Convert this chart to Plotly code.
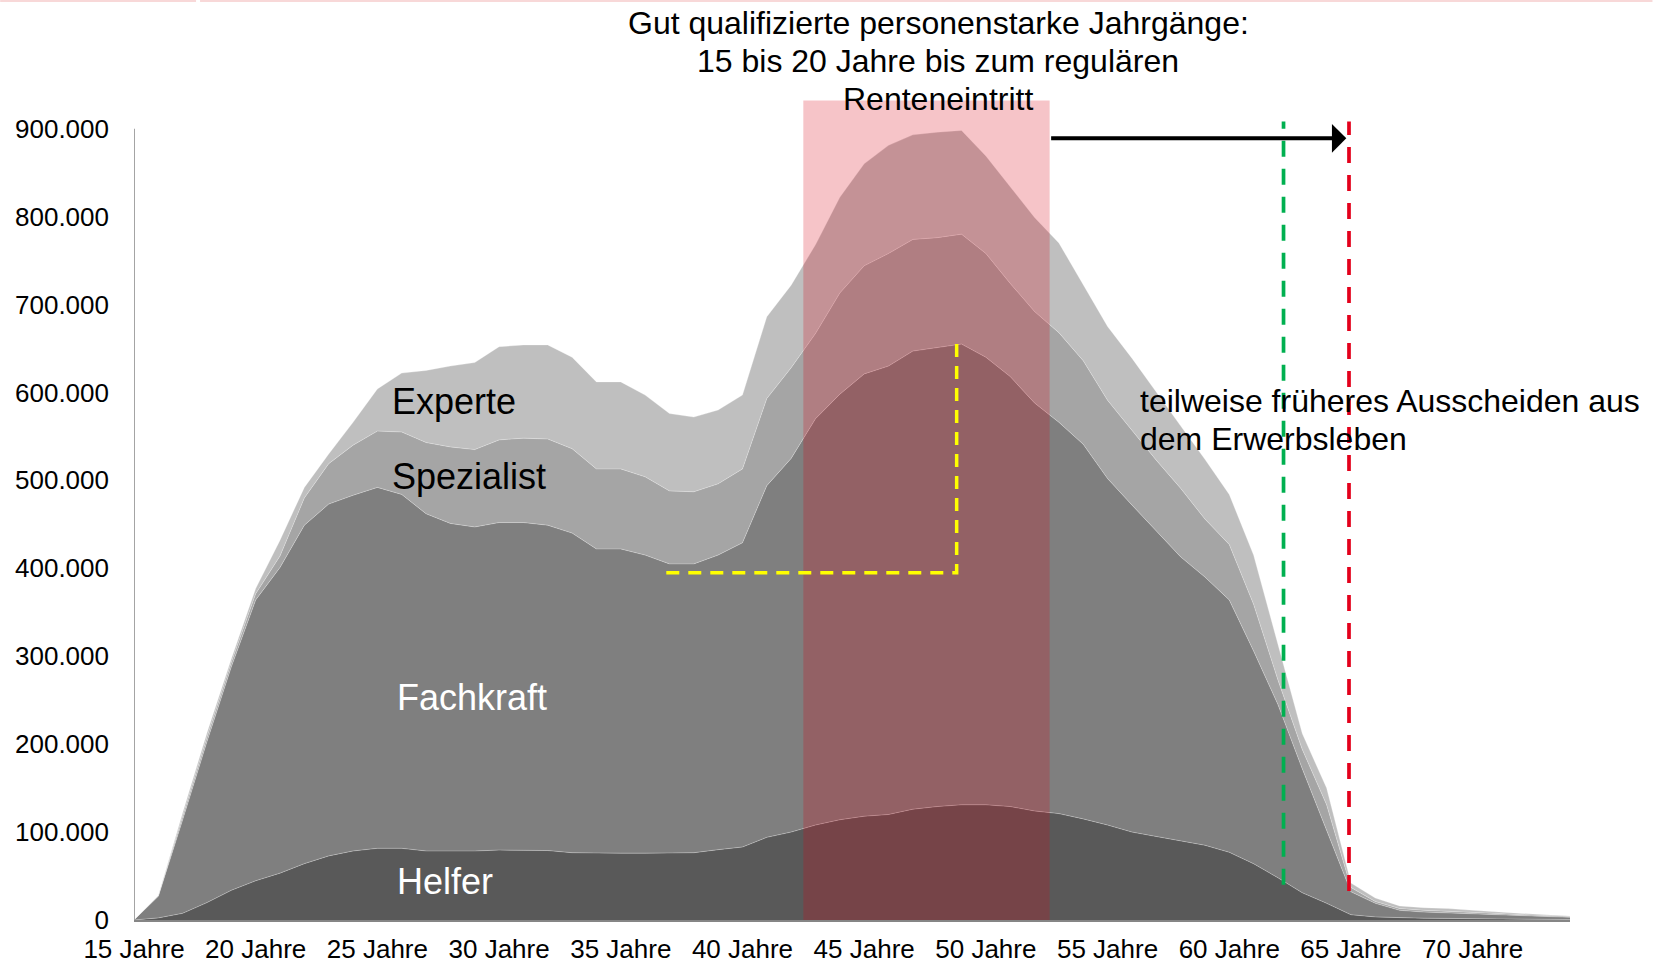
import plotly.graph_objects as go

# ---------------- data ----------------
ages = list(range(15, 75))

helfer = [0, 2400, 7600, 19800, 33800, 44600, 53300, 64100, 72900, 78500,
          81500, 81500, 78500, 78500, 78500, 79500, 79500, 79000, 76500, 76000,
          76000, 76000, 76000, 76500, 80000, 83000, 94000, 100000, 108000, 114000,
          118000, 120000, 126000, 129000, 131000, 131000, 129000, 124000, 121000, 115000,
          108000, 100000, 95000, 90000, 85000, 77000, 64000, 48000, 31000, 19000,
          6000, 3500, 2500, 2000, 1800, 1500, 1200, 1000, 800, 500]

fachkraft = [0, 24600, 106400, 183200, 254200, 319400, 347700, 384900, 400100, 404500,
             410500, 402500, 383500, 372500, 368500, 372500, 372500, 370000, 363500, 346000,
             346000, 339000, 329000, 328500, 335000, 346000, 400000, 425000, 462000, 484000,
             503000, 510000, 521000, 522000, 524000, 509000, 489000, 464000, 445000, 426000,
             394000, 372000, 348000, 323000, 305000, 287000, 242000, 197000, 141000, 84000,
             26000, 15500, 8500, 7000, 6200, 5500, 4800, 4000, 3200, 2500]

spezialist = [0, 500, 4000, 5000, 5000, 7000, 13000, 31000, 46000, 57000,
              64000, 71000, 81000, 87000, 88000, 94000, 96000, 98000, 96000, 91000,
              91000, 89000, 83000, 82000, 81000, 84000, 99000, 103000, 97000, 115000,
              123000, 128000, 127000, 125000, 125000, 118000, 106000, 104000, 102000, 95000,
              89000, 85000, 80000, 78000, 66000, 63000, 53000, 28000, 22000, 28000,
              5000, 2000, 2000, 2000, 2000, 2000, 1500, 1000, 1000, 1000]

experte = [0, 500, 4000, 5000, 4000, 6000, 18000, 12000, 11000, 26000,
           48000, 67000, 82000, 92000, 99000, 106000, 106000, 107000, 104000, 99000,
           99000, 93000, 88000, 85000, 84000, 84000, 93000, 94000, 101000, 109000,
           116000, 123000, 119000, 120000, 118000, 111000, 110000, 107000, 102000, 86000,
           84000, 82000, 77000, 71000, 68000, 57000, 56000, 42000, 18000, 19000,
           5000, 4000, 3000, 3000, 3000, 2000, 1500, 1500, 1000, 500]

series_names = ["Helfer", "Fachkraft", "Spezialist", "Experte"]
series_values = [helfer, fachkraft, spezialist, experte]
series_colors = ["#595959", "#7F7F7F", "#A5A5A5", "#BFBFBF"]

x_tick_ages = [15, 20, 25, 30, 35, 40, 45, 50, 55, 60, 65, 70]
x_tick_labels = [f"{a} Jahre" for a in x_tick_ages]
y_ticks = list(range(0, 900001, 100000))

# highlighted age band, markers (age / value)
band_ages = (42.5, 52.62)
band_top = 932000
yellow_ages = (36.87, 48.8)
yellow_values = (395000, 657000)
early_exit_age = 62.23
regular_exit_age = 64.92
arrow_tip_age = 64.81
arrow_value = 889000

# ---------------- geometry ----------------
W, H = 1653, 964
L = 133.9
R = W - 1570.5
B = H - 920.3
PX_PER_100K = 87.96
y_top = 939400
T = H - B - PX_PER_100K * y_top / 100000
plot_w = W - L - R
plot_h = H - T - B


def px_x(px):
    """reference-pixel x -> paper fraction"""
    return (px - L) / plot_w


def px_y(py):
    """reference-pixel y -> paper fraction"""
    return (H - B - py) / plot_h


fig = go.Figure()
for name, vals, col in zip(series_names, series_values, series_colors):
    fig.add_trace(go.Scatter(
        x=ages, y=vals, name=name, mode="lines", stackgroup="one",
        line=dict(width=0.8, color="rgba(255,255,255,0.35)"),
        fillcolor=col, hoverinfo="x+y+name"))

FONT = "Liberation Sans, Arial, sans-serif"

shapes = []
# y-axis line
shapes.append(dict(type="line", xref="x", yref="y", x0=15, x1=15, y0=0, y1=900000,
                   line=dict(color="#868686", width=1.5), layer="above"))
# pink band
shapes.append(dict(type="rect", xref="x", yref="y", x0=band_ages[0], x1=band_ages[1],
                   y0=0, y1=band_top, fillcolor="rgba(216,0,16,0.23)",
                   line=dict(width=0), layer="above"))
# yellow dashed bracket
shapes.append(dict(type="path", xref="x", yref="y",
                   path=f"M {yellow_ages[0]},{yellow_values[0]} L {yellow_ages[1]},{yellow_values[0]} "
                        f"L {yellow_ages[1]},{yellow_values[1]}",
                   line=dict(color="#FFFF00", width=3.5, dash="13px,9px"), layer="above"))
# green / red dashed verticals
shapes.append(dict(type="line", xref="x", yref="y", x0=early_exit_age, x1=early_exit_age,
                   y0=40000, y1=908000, line=dict(color="#00B050", width=3.7, dash="16px,12px"),
                   layer="above"))
shapes.append(dict(type="line", xref="x", yref="y", x0=regular_exit_age, x1=regular_exit_age,
                   y0=33000, y1=908000, line=dict(color="#E3001B", width=3.7, dash="16px,12px"),
                   layer="above"))
# faint slide border line at the very top
shapes.append(dict(type="line", xref="paper", yref="paper", x0=px_x(0), x1=px_x(196),
                   y0=px_y(1), y1=px_y(1), line=dict(color="#F8D8D8", width=2)))
shapes.append(dict(type="line", xref="paper", yref="paper", x0=px_x(200), x1=px_x(1653),
                   y0=px_y(1), y1=px_y(1), line=dict(color="#F8D8D8", width=2)))

annotations = []
# arrow
annotations.append(dict(x=arrow_tip_age, y=arrow_value, ax=band_ages[1], ay=arrow_value,
                        xref="x", yref="y", axref="x", ayref="y", text="", showarrow=True,
                        arrowhead=1, arrowsize=1.2, arrowwidth=4, arrowcolor="black", standoff=0))

title_lines = ["Gut qualifizierte personenstarke Jahrgänge:",
               "15 bis 20 Jahre bis zum regulären",
               "Renteneintritt"]
for line, py in zip(title_lines, [23.2, 61.1, 99.1]):
    annotations.append(dict(x=px_x(938.5), y=px_y(py), xref="paper", yref="paper",
                            text=line, showarrow=False, xanchor="center", yanchor="middle",
                            font=dict(family=FONT, size=32, color="black")))

exit_lines = ["teilweise früheres Ausscheiden aus", "dem Erwerbsleben"]
for line, py in zip(exit_lines, [401.6, 439.6]):
    annotations.append(dict(x=px_x(1138.6), y=px_y(py), xref="paper", yref="paper",
                            text=line, showarrow=False, xanchor="left", yanchor="middle",
                            font=dict(family=FONT, size=32, color="black")))

series_labels = [("Experte", 390, 401.6, "black"), ("Spezialist", 390, 476.5, "black"),
                 ("Fachkraft", 395.3, 698, "white"), ("Helfer", 395.3, 881.3, "white")]
for txt, px, py, col in series_labels:
    annotations.append(dict(x=px_x(px), y=px_y(py), xref="paper", yref="paper",
                            text=txt, showarrow=False, xanchor="left", yanchor="middle",
                            font=dict(family=FONT, size=36, color=col)))

fig.update_layout(
    width=W, height=H, autosize=False,
    margin=dict(l=L, r=R, t=T, b=B, pad=0, autoexpand=False),
    paper_bgcolor="white", plot_bgcolor="white",
    showlegend=False, separators=",.",
    font=dict(family=FONT, color="black"),
    shapes=shapes, annotations=annotations,
    xaxis=dict(range=[15, 74], tickmode="array", tickvals=x_tick_ages, ticktext=x_tick_labels,
               showgrid=False, zeroline=False, showline=True, linecolor="#868686", linewidth=1.5,
               automargin=False,
               ticks="", ticklabelstandoff=5, tickfont=dict(family=FONT, size=26, color="black")),
    yaxis=dict(range=[0, y_top], tickmode="array", tickvals=y_ticks, tickformat=",d",
               showgrid=False, zeroline=False, showline=False, automargin=False,
               ticks="", ticklabelstandoff=24, tickfont=dict(family=FONT, size=26, color="black")),
)

# remove the browser's default 8px body margin so the figure fills the window exactly
fig.write_html("out.html",
               config={"displayModeBar": False},
               post_script="document.body.style.margin='0';"
                           "document.body.style.overflow='hidden';")
